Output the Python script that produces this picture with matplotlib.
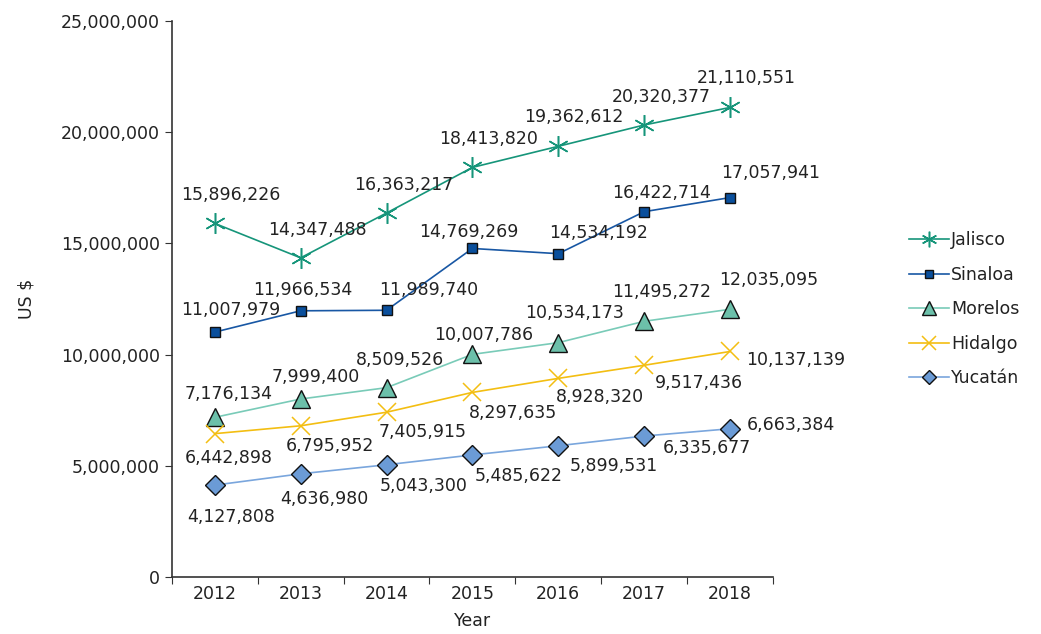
import numpy as np
import matplotlib
matplotlib.use("Agg")
import matplotlib.pyplot as plt
from matplotlib.ticker import FuncFormatter, FixedLocator

plt.rcParams['font.family'] = ['DejaVu Sans']

# data
years    = ['2012', '2013', '2014', '2015', '2016', '2017', '2018']
jalisco  = [15896226, 14347488, 16363217, 18413820, 19362612, 20320377, 21110551]
sinaloa  = [11007979, 11966534, 11989740, 14769269, 14534192, 16422714, 17057941]
morelos  = [7176134, 7999400, 8509526, 10007786, 10534173, 11495272, 12035095]
hidalgo  = [6442898, 6795952, 7405915, 8297635, 8928320, 9517436, 10137139]
yucatan  = [4127808, 4636980, 5043300, 5485622, 5899531, 6335677, 6663384]
names    = ['Jalisco', 'Sinaloa', 'Morelos', 'Hidalgo', 'Yucatán']

# label offsets (pixels right, pixels down) from each point
off_jal = [(16, -28), (17, -28), (17, -28), (16, -28), (16, -29), (17, -28), (16, -29)]
off_sin = [(16, -22), (2, -21), (42, -20), (-4, -16), (40, -21), (17, -19), (41, -25)]
off_mor = [(14, -23), (15, -22), (13, -28), (11, -19), (16, -30), (17, -29), (39, -29)]
off_hid = [(14, 24), (29, 20), (36, 20), (41, 21), (42, 19), (55, 18), (66, 9)]
off_yuc = [(16, 32), (24, 25), (37, 21), (46, 21), (56, 20), (63, 12), (61, -4)]

txt = '#222222'
fs = 12.5
fig = plt.figure(figsize=(10.41, 6.34), dpi=100)
ax = fig.add_axes([0.165, 0.09, 0.5776, 0.877])
x = np.arange(len(years))

styles = [
  dict(color='#16957a', marker=(6, 2, 0), ms=15, mec='#16957a', mfc='none', mew=1.1),
  dict(color='#1857a4', marker='s', ms=7.5, mec='#111111', mfc='#0a4f9c', mew=1.0),
  dict(color='#79cbb8', marker='^', ms=13, mec='#111111', mfc='#6cc0aa', mew=1.0),
  dict(color='#f3be12', marker='x', ms=13, mec='#f3be12', mew=1.1),
  dict(color='#7aa6dd', marker='D', ms=10, mec='#111111', mfc='#6b9bd6', mew=1.0),
]
series = [jalisco, sinaloa, morelos, hidalgo, yucatan]
offsets = [off_jal, off_sin, off_mor, off_hid, off_yuc]

for vals, st, nm, offs in zip(series, styles, names, offsets):
  ax.plot(x, vals, lw=1.2, label=nm, **st)
  for xi, v, (dx, dy) in zip(x, vals, offs):
    ax.annotate(f'{v:,}', (xi, v), xytext=(dx, -dy), textcoords='offset pixels',
                ha='center', va='center', fontsize=fs, color=txt)

ax.set_xlim(-0.5, len(years) - 0.5)
ax.set_ylim(0, 25000000)
ax.yaxis.set_major_locator(FixedLocator(np.arange(0, 25000001, 5000000)))
ax.yaxis.set_major_formatter(FuncFormatter(lambda v, p: f'{int(v):,}'))
ax.xaxis.set_major_locator(FixedLocator(np.arange(-0.5, len(years), 1.0)))
ax.xaxis.set_major_formatter(FuncFormatter(lambda v, p: ''))
ax.xaxis.set_minor_locator(FixedLocator(x))
ax.set_xticklabels(years, minor=True)
ax.tick_params(axis='x', which='minor', length=0, labelsize=fs, labelcolor=txt, pad=6)
ax.tick_params(axis='x', which='major', length=5, direction='out', color='#333333')
ax.tick_params(axis='y', length=5, direction='out', labelsize=fs, labelcolor=txt, color='#333333')

for s in ['top', 'right']:
  ax.spines[s].set_visible(False)
for s in ['left', 'bottom']:
  ax.spines[s].set_color('#333333')
  ax.spines[s].set_linewidth(1.2)

ax.set_xlabel('Year', fontsize=fs, color=txt, labelpad=6)
ax.set_ylabel('US $', fontsize=fs, color=txt, labelpad=18)

ax.legend(loc='upper left', bbox_to_anchor=(0.858, 0.66), bbox_transform=fig.transFigure,
          frameon=False, fontsize=fs, handlelength=2.3, handletextpad=0.15,
          labelspacing=0.95, labelcolor=txt, markerscale=0.75)

fig.savefig('out.png', dpi=100)
